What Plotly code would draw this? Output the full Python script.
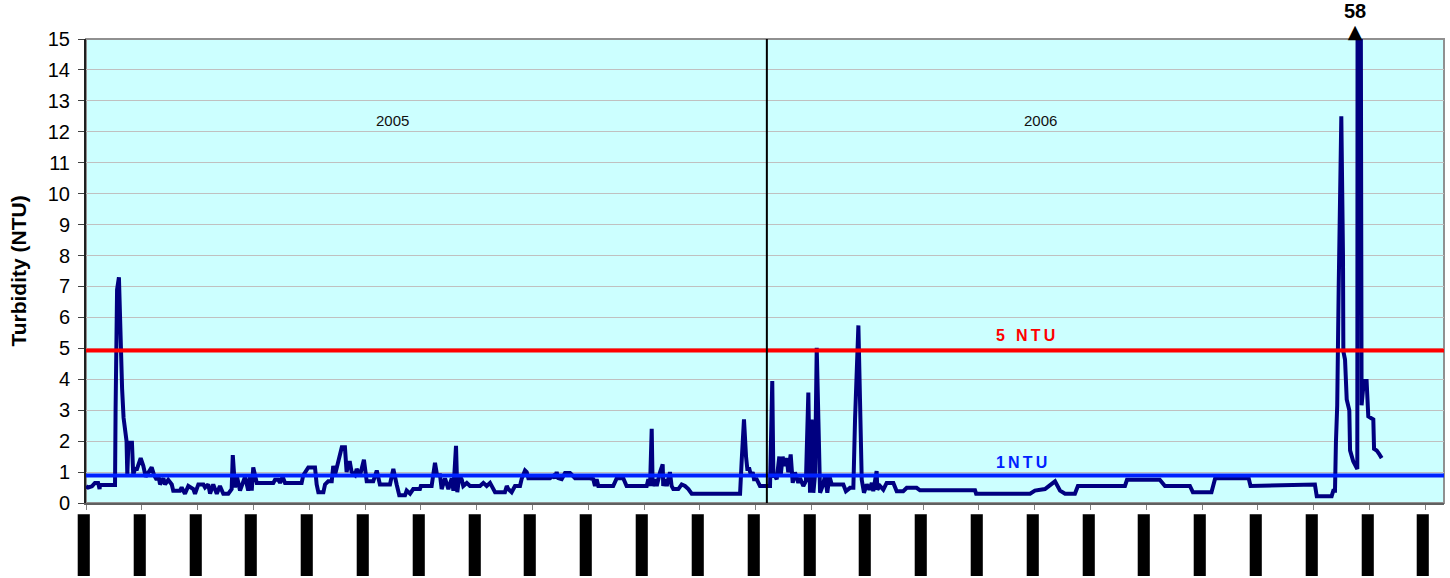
import plotly.graph_objects as go

# ---- data (day index from 1 Jan 2005, turbidity NTU) ----
day = [0, 1.1, 3.2, 4.8, 6.5, 7.3, 7.5, 15.6, 15.9, 16.7, 17.7, 18.3, 18.8, 19.4, 20.2, 21.8, 22.2, 22.8, 24.7, 25.4,
       26.3, 27.4, 29.4, 30.8, 32.1, 33.5, 35.3, 36.6, 38.0, 38.9, 39.8, 41.6, 42.5, 44.2, 46.1, 46.9, 50.5, 51.4, 53.2, 55.0,
       57.7, 58.6, 60.4, 63.1, 64.0, 65.7, 66.7, 68.4, 70.3, 72.0, 73.8, 76.5, 77.4, 78.3, 78.9, 80.1, 81.0, 82.8, 85.5, 87.2,
       88.2, 89.1, 89.9, 90.8, 91.8, 100.7, 101.6, 103.4, 104.3, 105.7, 107.0, 115.9, 116.8, 119.5, 123.1, 124.0, 124.9, 127.6, 128.5, 130.2,
       132.1, 132.9, 133.8, 137.5, 139.2, 140.1, 141.0, 141.9, 142.8, 144.6, 145.5, 147.3, 149.4, 150.9, 154.4, 156.3, 158.0, 163.4, 165.2, 167.0,
       168.4, 171.5, 172.4, 174.2, 175.9, 179.5, 180.0, 185.8, 187.6, 188.7, 190.3, 191.2, 193.0, 194.8, 196.6, 197.5, 198.9, 199.6, 200.7, 202.0,
       202.8, 204.7, 206.4, 211.8, 213.6, 215.4, 217.2, 219.9, 225.2, 226.2, 227.0, 228.8, 230.6, 233.3, 234.2, 236.0, 236.9, 237.8, 249.4, 251.2,
       252.1, 253.0, 253.9, 255.7, 257.5, 260.2, 262.9, 270.9, 272.7, 273.6, 274.5, 275.4, 283.4, 285.3, 288.8, 290.6, 301.4, 302.3, 303.2, 304.1,
       304.6, 305.9, 306.8, 308.6, 310.0, 310.3, 311.2, 312.2, 313.9, 314.8, 315.7, 318.4, 320.2, 322.0, 323.8, 325.6, 351.6, 352.5, 353.7, 354.8,
       355.5, 356.6, 357.5, 358.4, 359.1, 360.5, 362.3, 367.7, 368.9, 369.5, 370.4, 371.3, 372.7, 373.4, 374.5, 375.4, 376.7, 377.5, 378.8, 379.9,
       381.1, 382.9, 383.8, 385.6, 387.0, 388.3, 389.2, 390.1, 391.0, 391.9, 392.8, 393.7, 394.6, 396.0, 397.3, 398.5, 399.6, 400.9, 407.1, 408.5,
       410.7, 412.5, 413.4, 415.2, 416.1, 417.0, 418.2, 419.7, 421.1, 422.4, 423.2, 425.0, 425.4, 426.8, 428.6, 430.4, 434.0, 435.8, 439.3, 441.2,
       446.5, 448.3, 459.1, 477.9, 478.5, 507.5, 510.1, 515.5, 520.9, 523.6, 526.3, 531.6, 533.2, 558.5, 559.6, 577.2, 580.0, 593.4, 595.0, 605.0,
       607.0, 625.0, 626.0, 652.6, 660.6, 661.6, 669.6, 670.5, 671.4, 671.9, 672.6, 673.4, 674.8, 675.7, 675.9, 676.8, 677.7, 679.1, 679.5, 681.2,
       683.1, 683.4, 683.9, 684.8, 685.5, 685.7, 686.9, 688.4, 689.3, 692.0, 692.4, 693.8, 695.0, 696.5]
ntu = [0.54, 0.5, 0.54, 0.65, 0.65, 0.45, 0.58, 0.58, 3.0, 6.9, 7.3, 5.8, 4.0, 3.7, 2.75, 2.0, 0.9, 1.95, 1.95, 0.9,
       1.1, 1.1, 1.45, 1.2, 0.85, 1.0, 1.15, 0.9, 0.75, 0.9, 0.6, 0.8, 0.6, 0.75, 0.6, 0.4, 0.4, 0.5, 0.3, 0.55,
       0.45, 0.3, 0.6, 0.6, 0.5, 0.6, 0.3, 0.6, 0.3, 0.55, 0.3, 0.3, 0.4, 0.45, 1.55, 0.5, 0.9, 0.4, 0.85, 0.4,
       0.85, 0.4, 1.15, 0.9, 0.65, 0.65, 0.75, 0.75, 0.65, 0.85, 0.65, 0.65, 0.9, 1.15, 1.15, 0.6, 0.35, 0.35, 0.6, 0.7,
       0.7, 1.2, 0.9, 1.8, 1.8, 1.0, 1.3, 1.3, 1.0, 0.9, 1.1, 0.9, 1.4, 0.7, 0.7, 1.05, 0.6, 0.6, 1.1, 0.6,
       0.25, 0.25, 0.4, 0.3, 0.45, 0.45, 0.55, 0.55, 1.3, 0.9, 0.9, 0.45, 0.8, 0.45, 0.8, 0.4, 1.85, 0.35, 0.9, 0.75,
       0.55, 0.65, 0.55, 0.55, 0.65, 0.55, 0.65, 0.35, 0.35, 0.55, 0.45, 0.35, 0.55, 0.55, 0.78, 1.05, 1.0, 0.8, 0.8, 0.88,
       0.8, 1.0, 0.8, 0.77, 0.97, 0.97, 0.8, 0.8, 0.77, 0.55, 0.77, 0.55, 0.55, 0.8, 0.8, 0.55, 0.55, 0.77, 0.55, 2.4,
       0.55, 0.77, 0.55, 1.0, 1.25, 0.55, 0.77, 0.55, 1.0, 0.55, 0.45, 0.45, 0.6, 0.55, 0.45, 0.3, 0.3, 1.4, 2.7, 1.5,
       1.1, 1.1, 0.88, 1.0, 0.77, 0.77, 0.55, 0.55, 3.94, 0.87, 0.87, 0.77, 1.5, 0.87, 1.5, 1.2, 1.45, 0.99, 1.57, 0.65,
       0.99, 0.65, 0.81, 0.55, 0.71, 3.57, 0.33, 2.7, 0.33, 0.92, 5.02, 2.7, 0.33, 0.55, 0.87, 0.33, 0.87, 0.6, 0.6, 0.38,
       0.49, 0.49, 2.7, 5.74, 2.7, 0.76, 0.33, 0.6, 0.43, 0.65, 0.38, 1.03, 0.43, 0.55, 0.43, 0.65, 0.65, 0.38, 0.38, 0.49,
       0.49, 0.41, 0.41, 0.41, 0.3, 0.3, 0.4, 0.45, 0.7, 0.4, 0.3, 0.3, 0.55, 0.55, 0.75, 0.75, 0.55, 0.55, 0.35, 0.35,
       0.8, 0.8, 0.55, 0.6, 0.6, 0.22, 0.22, 0.4, 0.4, 1.95, 3.15, 7.0, 12.5, 8.0, 4.9, 4.64, 3.35, 3.0, 1.7, 1.35,
       1.15, 1.1, 58, 58, 8.0, 3.16, 3.94, 3.94, 2.8, 2.7, 1.75, 1.7, 1.6, 1.45]

tick_days = list(range(0, 721, 30))
tick_label = "\u258d"          # month labels appear as solid black bars
limit_high = 4.93
limit_low = 0.89
year_split_day = 366
year_labels = ["2005", "2006"]
year_label_days = [165, 513]
y_max = 15

FONT = "Liberation Sans, Arial, sans-serif"

fig = go.Figure()
fig.add_trace(go.Scatter(x=day, y=ntu, mode="lines",
                         line=dict(color="#000080", width=4), hoverinfo="skip", showlegend=False))

# off-scale peak: value with arrow head (one text block)
peak_i = max(range(len(ntu)), key=lambda i: ntu[i])
fig.add_annotation(x=day[peak_i] - 1.5, y=y_max, showarrow=False, yanchor="bottom", yshift=-5,
                   text=(f"<span style='font-family:Liberation Sans, Arial; font-size:20px'><b>{ntu[peak_i]:g}</b></span>"
                         "<br><span style='font-size:19px'>\u25b2</span>"),
                   font=dict(family="DejaVu Sans", size=15, color="black"))

# threshold lines
fig.add_hline(y=limit_high, line=dict(color="#ff0000", width=4))
fig.add_hline(y=limit_low, line=dict(color="#0022ff", width=4))
fig.add_shape(type="line", x0=year_split_day, x1=year_split_day, y0=0, y1=1, xref="x", yref="paper",
              line=dict(color="black", width=2))
fig.add_annotation(x=505, y=5.41, text="<b>5\u2002\u2009N\u2009T\u2009U</b>", showarrow=False,
                   font=dict(family=FONT, size=16, color="#ff0000"))
fig.add_annotation(x=503, y=1.32, text="<b>1\u2009N\u2009T\u2009U</b>", showarrow=False,
                   font=dict(family=FONT, size=16, color="#0022ff"))
for lbl, d in zip(year_labels, year_label_days):
    fig.add_annotation(x=d, y=12.36, text=lbl, showarrow=False,
                       font=dict(family=FONT, size=15, color="#111111"))

# month labels (rendered as black bars under each tick)
for d in tick_days:
    fig.add_annotation(x=d, xref="x", y=0, yref="paper", text=tick_label, showarrow=False,
                       yanchor="middle", xshift=7, yshift=-42,
                       font=dict(family="DejaVu Sans Mono", size=52, color="black"))

# border
fig.add_shape(type="rect", xref="paper", yref="paper", x0=0, x1=1, y0=0, y1=1,
              line=dict(color="#909090", width=2), layer="below")

fig.update_layout(
    width=1450, height=578,
    margin=dict(l=86, r=6, t=39, b=75),
    paper_bgcolor="white", plot_bgcolor="#ccffff",
    font=dict(family=FONT, color="black"),
    xaxis=dict(range=[0, 730], tickvals=tick_days, showticklabels=False,
               ticks="outside", ticklen=5, tickcolor="#808080", showgrid=False, zeroline=False,
               showline=True, linecolor="#606060", linewidth=2),
    yaxis=dict(range=[0, y_max], dtick=1, ticks="outside", ticklen=6, tickcolor="#404040",
               showgrid=True, gridcolor="#c0c0c0", gridwidth=1, zeroline=False,
               showline=True, linecolor="#202020", linewidth=2, ticklabelstandoff=4,
               tickfont=dict(family=FONT, size=20, color="black"),
               title=dict(text="<b>Turbidity (NTU)</b>", font=dict(family=FONT, size=21), standoff=15)),
)

fig.write_html("out.html", config={"displayModeBar": False},
               post_script="document.body.style.margin='0px';")
